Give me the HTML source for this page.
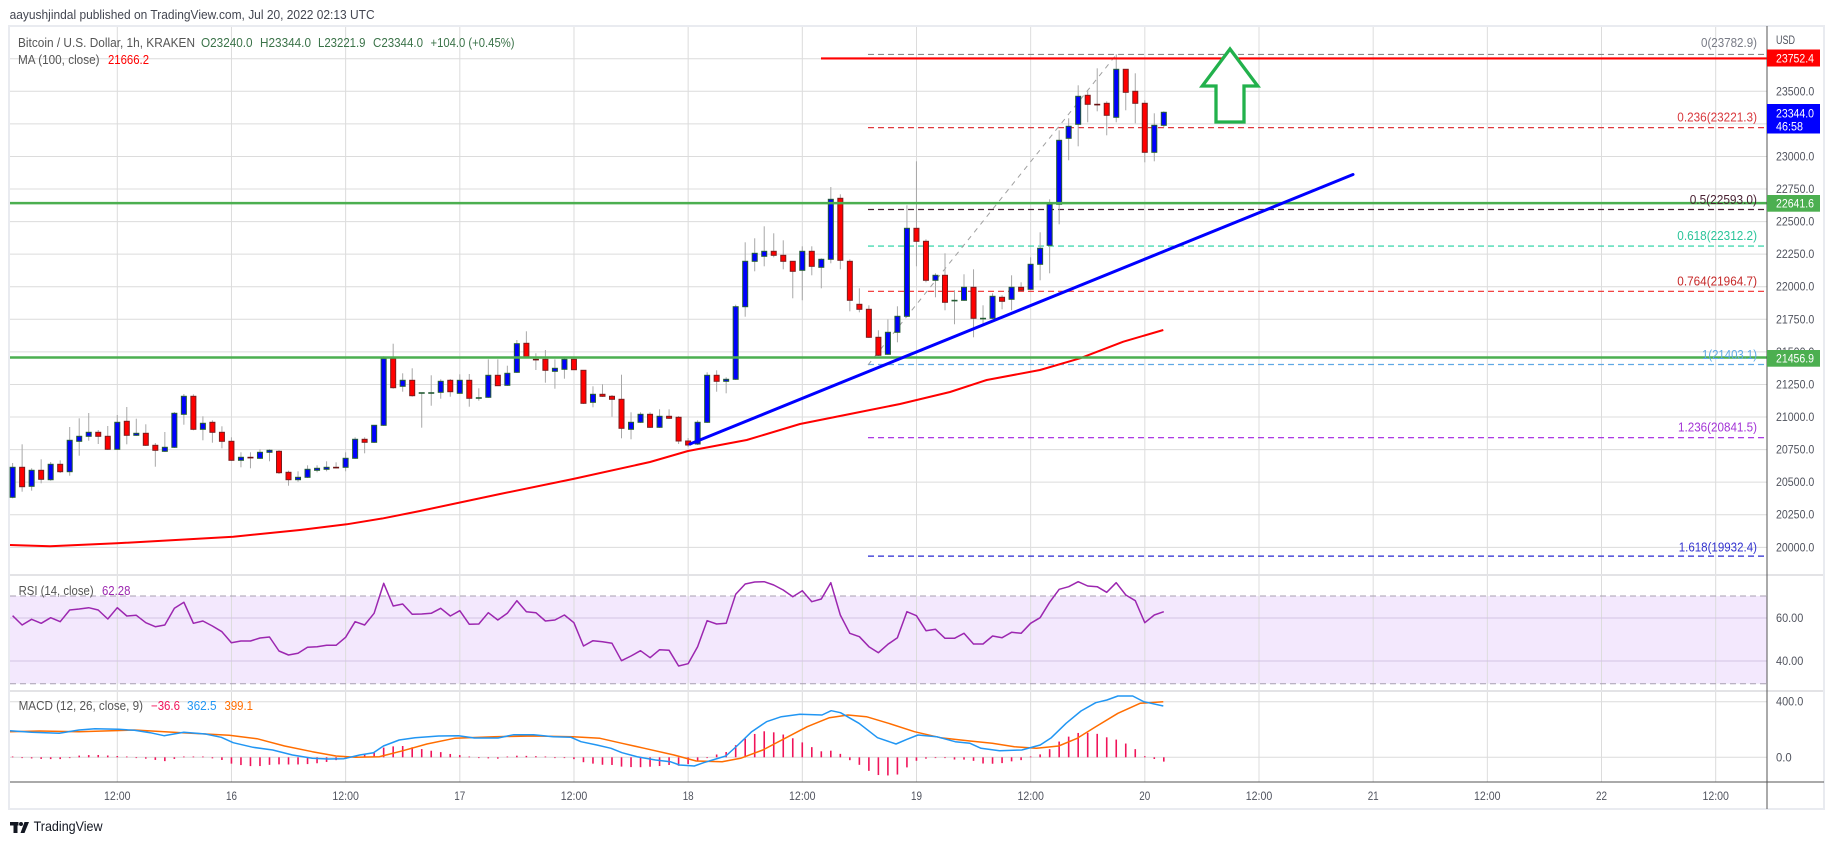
<!DOCTYPE html>
<html><head><meta charset="utf-8">
<style>
html,body{margin:0;padding:0;background:#fff;}
svg{display:block;}
text{font-family:"Liberation Sans",Arial,sans-serif;}
</style></head>
<body>
<svg id="s" width="1834" height="845" viewBox="0 0 1834 845" xmlns="http://www.w3.org/2000/svg">
<rect width="1834" height="845" fill="#fff"/>
<g id="g0"></g>
<g id="g1"></g>
<g id="g2"></g>
<g id="g3"></g>
<g id="g4"></g>
<!-- header -->
<text x="9.6" y="19" font-size="13" fill="#434651" textLength="365" lengthAdjust="spacingAndGlyphs">aayushjindal published on TradingView.com, Jul 20, 2022 02:13 UTC</text>
<!-- legend -->
<g font-size="12.5">
<text x="18" y="47" fill="#555" textLength="177" lengthAdjust="spacingAndGlyphs">Bitcoin / U.S. Dollar, 1h, KRAKEN</text>
<text x="201" y="47" fill="#3b7349" textLength="51.6" lengthAdjust="spacingAndGlyphs">O23240.0</text>
<text x="260" y="47" fill="#3b7349" textLength="51" lengthAdjust="spacingAndGlyphs">H23344.0</text>
<text x="318" y="47" fill="#3b7349" textLength="47.5" lengthAdjust="spacingAndGlyphs">L23221.9</text>
<text x="373" y="47" fill="#3b7349" textLength="50" lengthAdjust="spacingAndGlyphs">C23344.0</text>
<text x="430.5" y="47" fill="#3b7349" textLength="84" lengthAdjust="spacingAndGlyphs">+104.0 (+0.45%)</text>
<text x="18" y="64" fill="#555" textLength="81.5" lengthAdjust="spacingAndGlyphs">MA (100, close)</text>
<text x="108" y="64" fill="#ff0000" textLength="41" lengthAdjust="spacingAndGlyphs">21666.2</text>
<text x="18.6" y="595" fill="#555" textLength="75" lengthAdjust="spacingAndGlyphs">RSI (14, close)</text>
<text x="102" y="595" fill="#9c27b0" textLength="28.4" lengthAdjust="spacingAndGlyphs">62.28</text>
<text x="18.6" y="710" fill="#555" textLength="124.4" lengthAdjust="spacingAndGlyphs">MACD (12, 26, close, 9)</text>
<text x="151" y="710" fill="#f0145a" textLength="29" lengthAdjust="spacingAndGlyphs">−36.6</text>
<text x="187" y="710" fill="#2196f3" textLength="29.6" lengthAdjust="spacingAndGlyphs">362.5</text>
<text x="224.5" y="710" fill="#ff6d00" textLength="28.5" lengthAdjust="spacingAndGlyphs">399.1</text>
</g>
<!-- fib labels -->
<g font-size="12.5" text-anchor="end">
<text x="1757" y="47" fill="#787b86" textLength="56" lengthAdjust="spacingAndGlyphs">0(23782.9)</text>
<text x="1757" y="121.7" fill="#d9393e" textLength="79.7" lengthAdjust="spacingAndGlyphs">0.236(23221.3)</text>
<text x="1757" y="204" fill="#4a2233" textLength="67.3" lengthAdjust="spacingAndGlyphs">0.5(22593.0)</text>
<text x="1757" y="240" fill="#2bc49a" textLength="79.7" lengthAdjust="spacingAndGlyphs">0.618(22312.2)</text>
<text x="1757" y="285.7" fill="#c62828" textLength="79.7" lengthAdjust="spacingAndGlyphs">0.764(21964.7)</text>
<text x="1757" y="359" fill="#5fa9e5" textLength="55" lengthAdjust="spacingAndGlyphs">1(21403.1)</text>
<text x="1757" y="431.7" fill="#a334d6" textLength="79" lengthAdjust="spacingAndGlyphs">1.236(20841.5)</text>
<text x="1757" y="551.3" fill="#3434cf" textLength="78.3" lengthAdjust="spacingAndGlyphs">1.618(19932.4)</text>
</g>
<!-- price axis -->
<g font-size="11.5" fill="#50535e">
<text x="1776" y="44" textLength="19" lengthAdjust="spacingAndGlyphs">USD</text>
<text x="1776" y="95.3" textLength="38.3" lengthAdjust="spacingAndGlyphs">23500.0</text>
<text x="1776" y="160.4" textLength="38.3" lengthAdjust="spacingAndGlyphs">23000.0</text>
<text x="1776" y="193" textLength="38.3" lengthAdjust="spacingAndGlyphs">22750.0</text>
<text x="1776" y="225.6" textLength="38.3" lengthAdjust="spacingAndGlyphs">22500.0</text>
<text x="1776" y="258.2" textLength="38.3" lengthAdjust="spacingAndGlyphs">22250.0</text>
<text x="1776" y="290.7" textLength="38.3" lengthAdjust="spacingAndGlyphs">22000.0</text>
<text x="1776" y="323.3" textLength="38.3" lengthAdjust="spacingAndGlyphs">21750.0</text>
<text x="1776" y="355.9" textLength="38.3" lengthAdjust="spacingAndGlyphs">21500.0</text>
<text x="1776" y="388.5" textLength="38.3" lengthAdjust="spacingAndGlyphs">21250.0</text>
<text x="1776" y="421" textLength="38.3" lengthAdjust="spacingAndGlyphs">21000.0</text>
<text x="1776" y="453.6" textLength="38.3" lengthAdjust="spacingAndGlyphs">20750.0</text>
<text x="1776" y="486.2" textLength="38.3" lengthAdjust="spacingAndGlyphs">20500.0</text>
<text x="1776" y="518.7" textLength="38.3" lengthAdjust="spacingAndGlyphs">20250.0</text>
<text x="1776" y="551.3" textLength="38.3" lengthAdjust="spacingAndGlyphs">20000.0</text>
<text x="1776" y="622" textLength="27.3" lengthAdjust="spacingAndGlyphs">60.00</text>
<text x="1776" y="665" textLength="27.3" lengthAdjust="spacingAndGlyphs">40.00</text>
<text x="1776" y="705.5" textLength="27.3" lengthAdjust="spacingAndGlyphs">400.0</text>
<text x="1776" y="761.3" textLength="15.7" lengthAdjust="spacingAndGlyphs">0.0</text>
</g>
<!-- time axis -->
<g font-size="11.5" fill="#50535e" text-anchor="middle">
<text x="117.3" y="800" textLength="26.5" lengthAdjust="spacingAndGlyphs">12:00</text>
<text x="231.5" y="800" textLength="11" lengthAdjust="spacingAndGlyphs">16</text>
<text x="345.6" y="800" textLength="26.5" lengthAdjust="spacingAndGlyphs">12:00</text>
<text x="459.8" y="800" textLength="11" lengthAdjust="spacingAndGlyphs">17</text>
<text x="574" y="800" textLength="26.5" lengthAdjust="spacingAndGlyphs">12:00</text>
<text x="688.2" y="800" textLength="11" lengthAdjust="spacingAndGlyphs">18</text>
<text x="802.3" y="800" textLength="26.5" lengthAdjust="spacingAndGlyphs">12:00</text>
<text x="916.5" y="800" textLength="11" lengthAdjust="spacingAndGlyphs">19</text>
<text x="1030.7" y="800" textLength="26.5" lengthAdjust="spacingAndGlyphs">12:00</text>
<text x="1144.8" y="800" textLength="11" lengthAdjust="spacingAndGlyphs">20</text>
<text x="1259" y="800" textLength="26.5" lengthAdjust="spacingAndGlyphs">12:00</text>
<text x="1373.2" y="800" textLength="11" lengthAdjust="spacingAndGlyphs">21</text>
<text x="1487.3" y="800" textLength="26.5" lengthAdjust="spacingAndGlyphs">12:00</text>
<text x="1601.5" y="800" textLength="11" lengthAdjust="spacingAndGlyphs">22</text>
<text x="1715.7" y="800" textLength="26.5" lengthAdjust="spacingAndGlyphs">12:00</text>
</g>
<!-- tags -->
<rect x="1767" y="49.5" width="53" height="17" fill="#ff0000"/>
<rect x="1767" y="104" width="53" height="29.5" fill="#0000ff"/>
<rect x="1767" y="195" width="53" height="16.7" fill="#4caf50"/>
<rect x="1767" y="350" width="53" height="16.7" fill="#4caf50"/>
<g font-size="11.5" fill="#fff">
<text x="1776" y="62.3" textLength="38" lengthAdjust="spacingAndGlyphs">23752.4</text>
<text x="1776" y="117.5" textLength="38" lengthAdjust="spacingAndGlyphs">23344.0</text>
<text x="1776" y="130.5" textLength="27" lengthAdjust="spacingAndGlyphs">46:58</text>
<text x="1776" y="207.5" textLength="38" lengthAdjust="spacingAndGlyphs">22641.6</text>
<text x="1776" y="362.5" textLength="38" lengthAdjust="spacingAndGlyphs">21456.9</text>
</g>
<!-- logo -->
<g fill="#131722">
<rect x="10" y="822" width="8.5" height="3.5"/>
<rect x="13.5" y="822" width="4" height="11"/>
<circle cx="21" cy="824" r="2"/>
<polygon points="24.5,822 29,822 24.5,833 20.5,833"/>
<text x="33.6" y="831" font-size="14" textLength="69" lengthAdjust="spacingAndGlyphs">TradingView</text>
</g>
</svg>
<script>
(function(){
var NS='http://www.w3.org/2000/svg';
function el(p,t,a){var e=document.createElementNS(NS,t);for(var k in a)e.setAttribute(k,a[k]);document.getElementById(p).appendChild(e);return e;}
function cx(h){return 3.1+9.514*h;}
function Y(p){return 91.3+(23500-p)*0.13029;}
el('g0','rect',{x:10,y:596,width:1757,height:87.7,fill:'#f3e8fd'});
for(var k=0;k<15;k++){var x=117.3+114.17*k;el('g0','line',{x1:x,y1:27,x2:x,y2:782,stroke:'#dcdcdc','stroke-width':1});}
for(var p=23750;p>=20000;p-=250){var y=Y(p);el('g0','line',{x1:10,y1:y,x2:1767,y2:y,stroke:'#dcdcdc','stroke-width':1});}
el('g0','line',{x1:10,y1:618,x2:1767,y2:618,stroke:'#d3c3e4','stroke-width':1});
el('g0','line',{x1:10,y1:661,x2:1767,y2:661,stroke:'#d3c3e4','stroke-width':1});
el('g0','line',{x1:10,y1:596,x2:1767,y2:596,stroke:'#a89fb2','stroke-width':1,'stroke-dasharray':'6 4'});
el('g0','line',{x1:10,y1:683.7,x2:1767,y2:683.7,stroke:'#a89fb2','stroke-width':1,'stroke-dasharray':'6 4'});
el('g0','line',{x1:10,y1:701.7,x2:1767,y2:701.7,stroke:'#dcdcdc','stroke-width':1});
el('g0','line',{x1:10,y1:757.3,x2:1767,y2:757.3,stroke:'#dcdcdc','stroke-width':1});
el('g0','line',{x1:10,y1:575,x2:1824,y2:575,stroke:'#e3e3e6','stroke-width':2});
el('g0','line',{x1:10,y1:691,x2:1824,y2:691,stroke:'#e3e3e6','stroke-width':2});
el('g0','rect',{x:9,y:26,width:1815,height:783,fill:'none',stroke:'#e9ebf0','stroke-width':2});
var fib=[[23782.9,'#8a8a8a'],[23221.3,'#e0393e'],[22593.0,'#4a2233'],[22312.2,'#22d0a0'],[21964.7,'#f02a2a'],[21403.1,'#5fa9e5'],[20841.5,'#a020e0'],[19932.4,'#2a2ad0']];
fib.forEach(function(f){var y=Y(f[0]);el('g1','line',{x1:868,y1:y,x2:1767,y2:y,stroke:f[1],'stroke-width':1.2,'stroke-dasharray':'6 4'});});
el('g1','line',{x1:868,y1:365,x2:1116,y2:55,stroke:'#a0a0a0','stroke-width':1,'stroke-dasharray':'5 5'});
var D="1 B 467.3 497.3 463 498.3|2 R 467.3 486.7 444.3 491.7|3 B 470.3 486.3 468.3 490.7|4 R 470.3 479.3 459.3 483.3|5 B 464.3 479.7 462 480.7|6 R 464.3 471.7 460.3 473|7 B 440.3 471.7 427 475.7|8 B 436.3 441.3 418.3 455.7|9 B 432.3 436.3 413 440.7|10 R 432.3 436.3 430 444|11 R 436.3 449.3 426 450|12 B 422.3 449.3 415 450|13 R 421.3 435.3 407 444.3|14 B 433.3 435.3 418.7 436|15 R 433.3 445.3 424.3 446|16 R 445.3 450.3 443 466.7|17 B 447.3 451.3 432 452|18 B 413.3 447.3 412 448|19 B 396.3 414.3 394 424.7|20 R 396.3 429.3 394.3 430.3|21 B 423.3 429.3 416.3 440.3|22 R 422.3 432.3 420.3 442.7|23 R 432.3 441.3 426.3 448.3|24 R 441.3 460.3 437.3 461|25 B 457.3 460.3 452.3 467.3|26 D 457.3 458.3 452.3 468.3|27 B 452.3 458.3 449.3 459|28 B 450.3 452.3 449.3 461.3|29 R 451.3 472.7 450 474|30 R 472.3 479.7 470.7 485.7|31 B 477.3 479.7 471.3 481.7|32 B 469.3 477.3 465.3 478|33 B 468.3 470.3 465.3 472.3|34 B 467.3 469.3 461.3 471.3|35 D 467.3 468.3 462.3 468.3|36 B 458.3 467.3 452.3 471.3|37 B 439.3 458.3 437.3 459|38 R 439.3 442.3 437.3 453.3|39 B 425.3 442.3 425 443|40 B 358.7 425.3 356.3 426|41 R 358.7 387.7 343.7 388.7|42 B 380.3 386.3 373.3 391.7|43 R 380.3 395.7 368.3 396.7|44 G 392.7 393.7 392.7 427.7|45 G 392.7 393.7 375.3 405.7|46 B 381.3 392.3 379.3 398.7|47 R 380.3 391.7 379 396.7|48 B 380.3 393.3 374.3 394|49 R 380.3 398.3 374 406.7|50 G 397.7 398.7 388.3 400.7|51 B 375.3 397.3 359.3 398|52 R 375.3 385.7 359.3 386|53 B 373.3 385.3 365.7 386|54 B 343.7 372.3 340 373|55 R 343.3 357.3 331.3 358|56 D 359.3 360.3 353.3 370|57 R 359.3 370.3 350 382.7|58 B 368.3 371.3 359.3 388.7|59 B 359.3 369.3 356.7 378.7|60 R 359.3 369.7 356.7 370|61 R 370.3 403.3 370 404|62 B 394.3 402.3 386.3 407.3|63 R 394.3 396.3 384.3 397|64 R 396.3 399.3 395 416.7|65 R 399.3 428.3 374.7 438.3|66 B 422.3 429.3 412.3 439.3|67 B 414.3 422.3 412.3 423|68 R 414.3 427.3 412.3 428|69 B 416.3 427.3 409.3 428|70 R 416.3 418.3 409.3 419|71 R 417.3 441 416 444|72 R 441 445 438 447|73 B 422.3 444 420.3 445|74 B 375.3 422.3 372.3 423|75 R 375.3 381.3 370.3 391.7|76 B 379.3 381.3 377.3 393.3|77 B 306.7 379.3 304.7 380|78 B 261.3 306.7 242.3 316.7|79 B 253.3 261.3 238.3 271.3|80 B 251.3 256.3 226.3 266.3|81 R 251.3 255.3 233.3 257.3|82 R 255.3 261.3 240.3 269.3|83 R 261.3 271.3 261 298.3|84 B 251.3 270.3 246.3 300.3|85 R 251.3 266.3 246.3 275.3|86 B 259.3 267.3 258.3 288.3|87 B 199.3 259.3 187 263.3|88 R 198.3 260.3 194.3 269.3|89 R 261.3 300.3 259.3 311.3|90 R 304.3 309.3 288.3 312.3|91 R 309.3 337.3 305.3 338|92 R 337.3 355.3 330.3 356|93 B 332.3 354.3 319.3 355|94 B 316.3 332.3 306.3 342.3|95 B 228.3 316.3 205.3 317|96 R 228.3 241.3 161.3 266.3|97 R 241.3 280.3 239.3 282.3|98 B 275.3 280.3 273.3 297.3|99 R 275.3 302.3 253.3 310.3|100 G 300.3 301.3 290.3 324.3|101 B 287.3 300.3 274.3 301|102 R 287.3 318.3 269.3 337.3|103 G 318.3 319.3 305.3 325.3|104 B 296.3 318.3 293.3 319|105 R 297.3 301.3 295.3 309.3|106 B 287.3 299.3 275.3 310.3|107 R 287.3 290.3 282.3 291|108 B 264.3 289.3 257.3 290|109 B 248.3 264.3 232.3 280.3|110 B 204.3 245.3 199.3 273.3|111 B 140.3 204.3 130.3 224.3|112 B 126.3 138.3 118.3 160.3|113 B 96.3 124.3 85.3 146.3|114 R 95.3 104.3 91.3 122.3|115 D 104.3 105.3 68.3 111.3|116 R 103.3 115.3 101.3 135.3|117 B 69.3 117.3 54.3 122.3|118 R 69.3 92.3 69 110.3|119 R 91.3 103.3 73.3 123.3|120 R 103.3 152.3 100.3 162.3|121 B 125.3 152.3 113.3 161.3|122 B 112.3 125.3 111.3 127.3";
D.split('|').forEach(function(l){var a=l.trim().split(/\s+/);var h=+a[0],t=a[1],bt=+a[2],bb=+a[3],wt=+a[4],wb=+a[5];var x=cx(h);
 el('g2','line',{x1:x,y1:wt,x2:x,y2:wb,stroke:'#a8a8a8','stroke-width':1});
 if(t==='B'||t==='R'){el('g2','rect',{x:x-2.5,y:bt,width:5,height:Math.max(bb-bt,1),fill:t==='B'?'#0000ff':'#ff0000',stroke:t==='B'?'#245c34':'#7b1c1c','stroke-width':1});}
 else{el('g2','rect',{x:x-3,y:bt-0.5,width:6,height:1.6,fill:t==='G'?'#245c34':'#6b1212'});}
});
var MA=[[10,545],[50,546.3],[116.7,543.3],[233.3,536.7],[300,530],[346.7,524.3],[383.3,518.3],[420,511],[500,494],[573,479],[650,462],[688,451],[746.7,440],[800,424],[850,414],[900,404],[950,392],[986.7,380],[1040,370],[1080,358.3],[1123.3,341.7],[1163.3,330]];
function pts(A){return A.map(function(p){return p[0]+','+p[1];}).join(' ');}
el('g3','polyline',{points:pts(MA),fill:'none',stroke:'#ff0000','stroke-width':2,'stroke-linejoin':'round'});
el('g3','line',{x1:821,y1:Y(23752.4),x2:1767,y2:Y(23752.4),stroke:'#ff0000','stroke-width':2.2});
el('g3','line',{x1:10,y1:Y(22641.6),x2:1767,y2:Y(22641.6),stroke:'#4caf50','stroke-width':2.5});
el('g3','line',{x1:10,y1:Y(21456.9),x2:1767,y2:Y(21456.9),stroke:'#4caf50','stroke-width':2.5});
el('g3','line',{x1:690,y1:444,x2:1353,y2:174.5,stroke:'#0000ff','stroke-width':3,'stroke-linecap':'round'});
el('g3','polygon',{points:'1230,49 1257.7,86 1244,86 1244,122 1216,122 1216,86 1202.3,86',fill:'#fff',stroke:'#22b14c','stroke-width':3.3,'stroke-linejoin':'miter'});
var R=[[1,615.7],[2,625],[3,619.3],[4,623.3],[5,617.7],[6,621.7],[7,610],[8,609],[9,607.7],[10,610],[11,619],[12,607.7],[13,616],[14,615.3],[15,622.7],[16,626.7],[17,625],[18,608.3],[19,602.3],[20,623.3],[21,621],[22,626],[23,631.7],[24,642.7],[25,641],[26,641],[27,638],[28,637],[29,651],[30,655],[31,653.3],[32,647.3],[33,646.7],[34,645.3],[35,645.3],[36,637.3],[37,621.7],[38,625],[39,613.3],[40,583.3],[41,606],[42,604],[43,614.3],[44,614],[45,613.3],[46,608.3],[47,616],[48,610.7],[49,624.3],[50,624],[51,612.7],[52,620],[53,613.3],[54,600.7],[55,611.7],[56,612.7],[57,621],[58,620],[59,615],[60,622.7],[61,646],[62,640.7],[63,641.7],[64,643.3],[65,660.7],[66,656],[67,650.7],[68,657.7],[69,649.7],[70,650.3],[71,666],[72,663.7],[73,646.7],[74,620.7],[75,624],[76,623.3],[77,594.3],[78,584],[79,582],[80,581.7],[81,585],[82,590],[83,596.7],[84,590.7],[85,601.7],[86,599],[87,582.7],[88,615],[89,633.3],[90,636.7],[91,646.7],[92,652.7],[93,644.3],[94,637.7],[95,611.7],[96,615.7],[97,630.7],[98,629.3],[99,638.3],[100,638.3],[101,633.3],[102,644],[103,644],[104,636],[105,637.7],[106,632.3],[107,633.3],[108,623.3],[109,617.7],[110,602.3],[111,589.3],[112,586.7],[113,581.7],[114,586],[115,586.7],[116,592.3],[117,582.7],[118,595],[119,600.7],[120,622.7],[121,615],[122,611.7]];
el('g4','polyline',{points:R.map(function(p){return cx(p[0]).toFixed(1)+','+p[1];}).join(' '),fill:'none',stroke:'#9c27b0','stroke-width':1.5,'stroke-linejoin':'round'});
var M=[[10,730.7],[31.6,732.3],[59.3,733.3],[79,730],[94.9,728.7],[118.6,729.3],[134.4,730.3],[150.2,732.7],[164,735.7],[183.8,732.3],[205.5,734],[221.3,737.3],[233.2,742.7],[253,747.3],[272.7,750],[292.5,755],[312.3,758.3],[328,759],[344,758.7],[359.7,755],[373.5,752.7],[383.4,746],[399.2,740],[415,737.7],[438.7,736],[458.5,735.7],[474.3,738],[498,738],[513.8,734.7],[533.6,734.7],[553.4,736.7],[571,737.3],[581,741.7],[596.8,745],[611,748.3],[622,752.7],[637,756.7],[655.5,760],[670.3,761.7],[679.5,765],[694.3,766],[703.6,762.7],[725.8,756],[736.9,746],[751.7,731.7],[766.5,721.7],[781.3,716.7],[799.8,714.3],[822,715],[831.2,710.7],[840.5,712.7],[859,723.3],[877.5,737.7],[896,744],[907,739.3],[918,735],[936.7,736.7],[955.2,741.7],[970,743.3],[981,748.3],[999.6,750.7],[1021.8,750],[1040.2,745],[1051.3,737.7],[1066.1,723.3],[1081,711],[1095.7,702.7],[1106.9,700],[1117.9,696],[1132.7,696],[1143.8,701.7],[1163.3,706]];
var S=[[10,731.7],[39.5,731],[79,731.7],[134.4,730],[181.8,732.7],[229.2,735.3],[257,738.7],[284.6,746],[312.3,751.7],[336,756],[355.7,757.3],[379.4,756.7],[403,750.7],[426.9,744],[454.5,738.3],[494,736.7],[533.6,736],[573,736.7],[600,738.3],[622,743.3],[644.4,748.3],[674,755],[696.2,761],[722.1,761.7],[740.6,758.3],[762.8,750],[785,738.3],[807.2,726.7],[829.4,717.7],[847.9,715],[866.4,716.7],[888.6,723.3],[914.5,731.7],[940.4,737.7],[970,741],[992.2,743.3],[1014.4,746.7],[1036.5,748.3],[1058.7,746],[1077.2,738.3],[1095.7,726.7],[1117.9,713.3],[1140.1,703.3],[1163.3,701.7]];
function ip(A,x){if(x<=A[0][0])return A[0][1];for(var i=1;i<A.length;i++){if(x<=A[i][0]){var t=(x-A[i-1][0])/(A[i][0]-A[i-1][0]);return A[i-1][1]+t*(A[i][1]-A[i-1][1]);}}return A[A.length-1][1];}
for(var h=1;h<=122;h++){var xx=cx(h);var d=ip(S,xx)-ip(M,xx);if(Math.abs(d)<0.8)d=(d<0?-0.8:0.8);el('g4','line',{x1:xx,y1:757.3,x2:xx,y2:757.3-d,stroke:'#f0145a','stroke-width':1.6});}
el('g4','polyline',{points:pts(S),fill:'none',stroke:'#ff6d00','stroke-width':1.5,'stroke-linejoin':'round'});
el('g4','polyline',{points:pts(M),fill:'none',stroke:'#2196f3','stroke-width':1.5,'stroke-linejoin':'round'});
el('g4','line',{x1:1767,y1:26,x2:1767,y2:809,stroke:'#555','stroke-width':1});
el('g4','line',{x1:10,y1:782,x2:1824,y2:782,stroke:'#555','stroke-width':1});
})();
</script>
</body></html>
